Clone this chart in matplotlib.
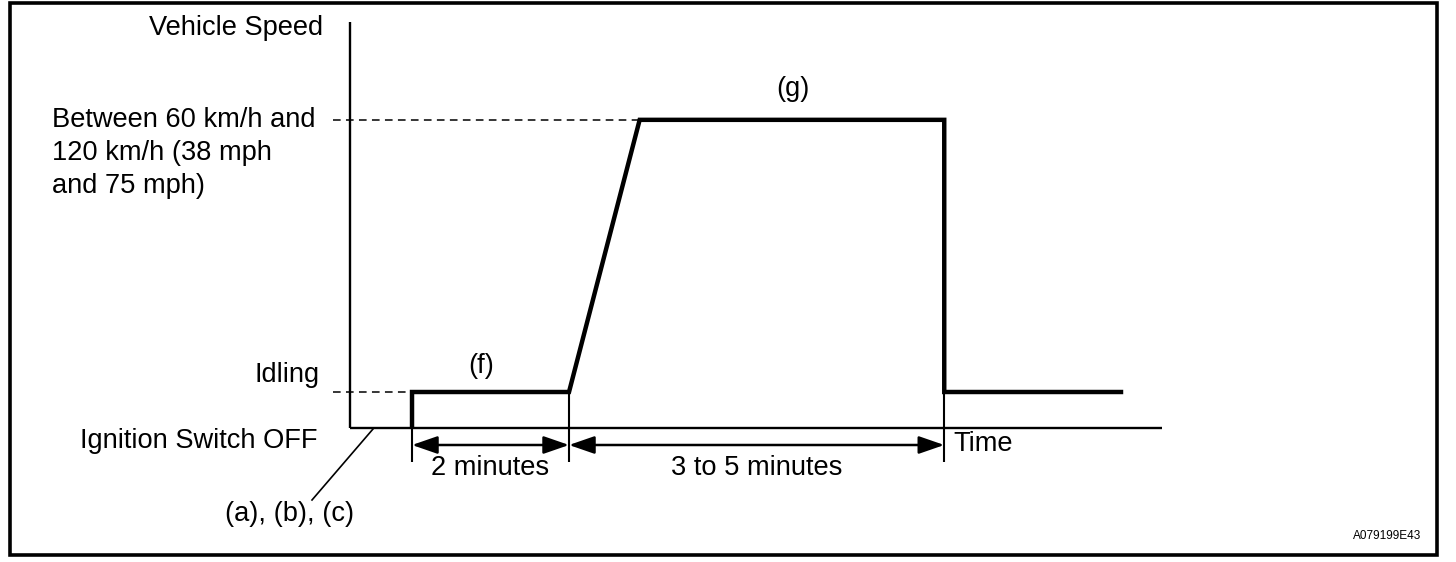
import matplotlib
matplotlib.use("Agg")
import matplotlib.pyplot as plt
from matplotlib.patches import Rectangle

plt.rcParams['font.family'] = ['Liberation Sans', 'DejaVu Sans']

# ---- schematic data (time in chart units, speed in chart units) ----
profile_time = [0.79, 0.79, 2.79, 3.69, 7.57, 7.57, 9.85]
profile_speed = [0.0, 1.0, 1.0, 8.56, 8.56, 1.0, 1.0]
idle_speed = 1.0
high_speed = 8.56
event_times = [0.79, 2.79, 7.57]
interval_labels = ["2 minutes", "3 to 5 minutes"]
axis_time_end = 10.34
axis_speed_top = 11.28
ignition_time = 0.0

W, H = 1456, 562
fig = plt.figure(figsize=(W / 100, H / 100), dpi=100)
ax = fig.add_axes([0, 0, 1, 1])
# pixel mapping: x_px = 350 + 78.5*t ; y_px = 428 - 36*v
sx, x0 = 78.5, 350.0
sy, y0 = 36.0, 428.0
ax.set_xlim(-x0 / sx, (W - x0) / sx)
ax.set_ylim((y0 - H) / sy, y0 / sy)
ax.axis('off')

def tx(px):
    return (px - x0) / sx

def ty(py):
    return (y0 - py) / sy

# outer border
fig.patches.append(Rectangle((10 / W, 1 - 555 / H), (1437 - 10) / W, (555 - 3) / H,
                             transform=fig.transFigure, fill=False, lw=2.6,
                             edgecolor='black'))

# axes
ax.plot([ignition_time, ignition_time], [0, axis_speed_top], color='black', lw=1.7,
        solid_capstyle='butt')
ax.plot([ignition_time, axis_time_end], [0, 0], color='black', lw=1.7,
        solid_capstyle='butt')

# dashed reference lines
ax.plot([tx(333), profile_time[3]], [high_speed, high_speed], color='black', lw=1.1,
        ls=(0, (5, 3.5)))
ax.plot([tx(333), event_times[0]], [idle_speed, idle_speed], color='black', lw=1.1,
        ls=(0, (5, 3.5)))

# event ticks
for t in event_times:
    ax.plot([t, t], [idle_speed, ty(462)], color='black', lw=1.5, solid_capstyle='butt')

# speed profile
ax.plot(profile_time, profile_speed, color='black', lw=3.2, solid_joinstyle='miter',
        solid_capstyle='butt')

fs = 19.6

# interval arrows
arrow_y = ty(445)
for (a, b), lab in zip(zip(event_times[:-1], event_times[1:]), interval_labels):
    ax.annotate('', xy=(b, arrow_y), xytext=(a, arrow_y),
                arrowprops=dict(arrowstyle='<|-|>,head_length=0.78,head_width=0.27',
                                mutation_scale=20, color='black', lw=1.8,
                                shrinkA=0, shrinkB=0))
    ax.text((a + b) / 2, ty(468), lab, ha='center', va='center', fontsize=fs)

# leader line
ax.plot([tx(373), tx(312)], [ty(429), ty(500)], color='black', lw=1.2)

ax.text(tx(323), ty(28), "Vehicle Speed", ha='right', va='center', fontsize=fs)
ax.text(tx(52), ty(107), "Between 60 km/h and\n120 km/h (38 mph\nand 75 mph)",
        ha='left', va='top', fontsize=fs, linespacing=1.34)
ax.text(tx(320), ty(375), "Idling", ha='right', va='center', fontsize=fs)
ax.text(tx(318), ty(441), "Ignition Switch OFF", ha='right', va='center', fontsize=fs)
ax.text(tx(290), ty(514), "(a), (b), (c)", ha='center', va='center', fontsize=fs)
ax.text(tx(481), ty(366), "(f)", ha='center', va='center', fontsize=fs)
ax.text(tx(793), ty(89), "(g)", ha='center', va='center', fontsize=fs)
ax.text(tx(953), ty(444), "Time", ha='left', va='center', fontsize=fs)
ax.text(tx(1421), ty(536), "A079199E43", ha='right', va='center', fontsize=8.5)

fig.savefig("out.png", dpi=100)
